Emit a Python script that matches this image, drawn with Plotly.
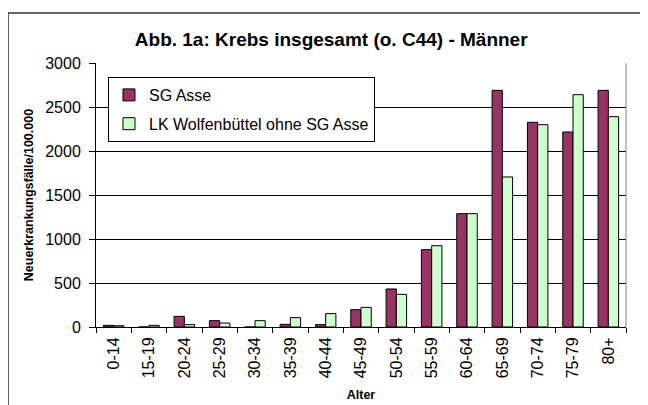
import plotly.graph_objects as go

# age groups and incidence per 100.000
alter = ['0-14', '15-19', '20-24', '25-29', '30-34', '35-39', '40-44', '45-49',
         '50-54', '55-59', '60-64', '65-69', '70-74', '75-79', '80+']
sg_asse = [19, 0, 121, 72, 0, 30, 27, 197, 432, 879, 1288, 2689, 2326, 2216, 2689]
lk_wolfenbuettel = [15, 19, 27, 45, 72, 106, 152, 223, 371, 924, 1288, 1705, 2299, 2640, 2390]
y_ticks = [0, 500, 1000, 1500, 2000, 2500, 3000]

FONT = 'Arial, Liberation Sans, sans-serif'

fig = go.Figure()
fig.add_trace(go.Bar(x=alter, y=sg_asse, name='SG Asse', legendgroup='a',
                     marker=dict(color='#993366', line=dict(color='#000000', width=1))))
fig.add_trace(go.Bar(x=alter, y=lk_wolfenbuettel, name='LK Wolfenbüttel ohne SG Asse', legendgroup='b',
                     marker=dict(color='#CCFFCC', line=dict(color='#000000', width=1))))

# page body has an 8px margin, so the figure is 8px smaller than the window
fig.update_layout(
    width=640, height=397,
    margin=dict(l=88, r=22, t=55, b=78),
    paper_bgcolor='white', plot_bgcolor='white',
    font=dict(family=FONT, color='black', size=16),
    barmode='group', bargap=0.42, bargroupgap=0,
    title=dict(text='<b>Abb. 1a: Krebs insgesamt (o. C44) - Männer</b>',
               x=0.505, xanchor='center', y=0.922, yanchor='middle',
               font=dict(size=19, family=FONT)),
    legend=dict(x=0.0226, y=0.947, xanchor='left', yanchor='top',
                bgcolor='white', bordercolor='black', borderwidth=1,
                font=dict(size=16, family=FONT), traceorder='grouped',
                tracegroupgap=5, itemwidth=30),
    showlegend=True,
)

fig.update_xaxes(
    title=dict(text='<b>Alter</b>', font=dict(size=12.5, family=FONT), standoff=12),
    tickangle=-90, tickfont=dict(size=16, family=FONT), ticklabelstandoff=3,
    showline=True, linecolor='black', linewidth=1,
    ticks='outside', tickson='boundaries', ticklen=5, tickcolor='black',
    showgrid=False, automargin=False,
)
fig.update_yaxes(
    title=dict(text='<b>Neuerkrankungsfälle/100.000</b>', font=dict(size=12.5, family=FONT), standoff=8),
    range=[0, 3000], tickvals=y_ticks, tickfont=dict(size=16, family=FONT), ticklabelstandoff=5,
    showline=True, linecolor='black', linewidth=1,
    ticks='outside', ticklen=6, tickcolor='black',
    showgrid=True, gridcolor='black', gridwidth=1,
    zeroline=False, automargin=False,
)

# right edge of plot area (gray) and outer chart frame
fig.add_shape(type='line', xref='paper', yref='paper', x0=1, x1=1, y0=0, y1=1,
              line=dict(color='#808080', width=1))
fig.add_shape(type='rect', xref='paper', yref='paper', x0=-0.166, x1=1.2, y0=-0.6, y1=1.189,
              line=dict(color='#333333', width=1.5), layer='below')

fig.write_html('out.html')
